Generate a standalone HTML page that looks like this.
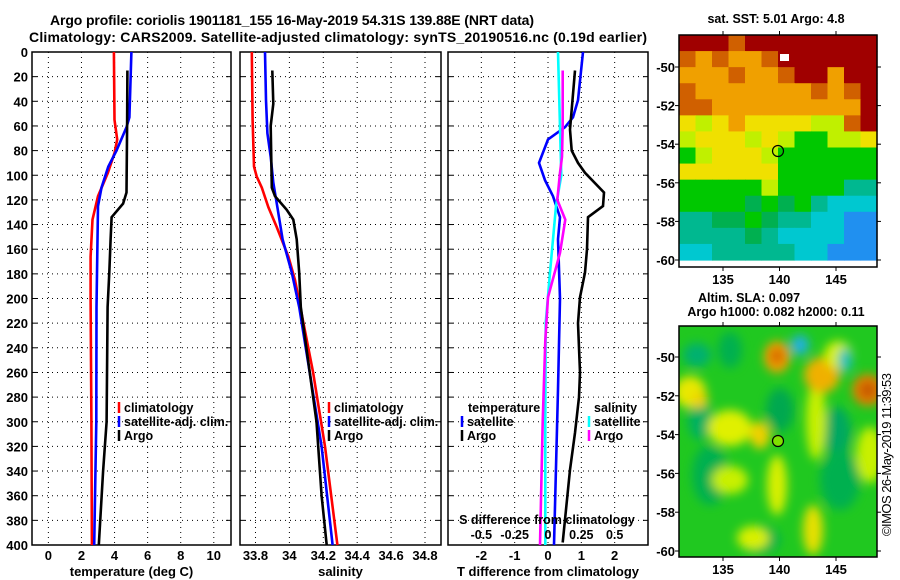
<!DOCTYPE html>
<html><head><meta charset="utf-8"><style>
html,body{margin:0;padding:0;background:#fff;}
svg{display:block;font-family:"Liberation Sans",Arial,sans-serif;font-weight:bold;}
</style></head><body>
<svg id="chart" width="900" height="580" viewBox="0 0 900 580" xmlns="http://www.w3.org/2000/svg">
<text x="50" y="25" font-size="14" textLength="484">Argo profile: coriolis 1901181_155 16-May-2019 54.31S 139.88E (NRT data)</text>
<text x="29" y="42" font-size="14" textLength="618">Climatology: CARS2009. Satellite-adjusted climatology: synTS_20190516.nc (0.19d earlier)</text>
<g id="panels"></g>
<g id="maps"></g>
<text transform="translate(891,536) rotate(-90)" font-size="13" font-weight="normal" textLength="163">©IMOS 26-May-2019 11:39:53</text>
</svg>
<script>
// ---------- data ----------
// Temperature panel (deg C)
const tClimDepth = [0,55,71,82,98,117,136,166,200,300,400];
const tClim = [3.96,4.0,4.16,4.0,3.6,3.0,2.67,2.55,2.55,2.6,2.63];
const tSatDepth = [0,53,61,80,93,110,125,207,300,400];
const tSat = [5.02,4.9,4.72,4.12,3.62,3.21,3.0,2.91,2.9,2.77];
const tArgoDepth = [15,60,114,123,134,152,179,207,300,340,400];
const tArgo = [4.78,4.76,4.72,4.52,3.82,3.76,3.68,3.58,3.52,3.31,3.05];
// Salinity panel
const sClimDepth = [0,55,93,101,110,126,142,166,185,206,260,320,400];
const sClim = [33.778,33.783,33.791,33.807,33.837,33.876,33.925,33.994,34.033,34.063,34.14,34.21,34.283];
const sSatDepth = [0,39,66,85,106,126,152,179,207,320,400];
const sSat = [33.856,33.862,33.87,33.89,33.905,33.929,33.96,34.014,34.058,34.19,34.255];
const sArgoDepth = [15,42,60,110,117,128,136,152,179,207,300,320,360,400];
const sArgo = [33.899,33.905,33.89,33.896,33.915,33.984,34.023,34.043,34.058,34.067,34.16,34.17,34.19,34.22];
// Difference panel
const dTSatDepth = [0,39,53,61,71,90,104,117,134,152,200,274,400];
const dTSat = [1.05,0.9,0.75,0.51,0.0,-0.27,-0.09,0.15,0.36,0.3,0.36,0.3,0.18];
const dTArgoDepth = [15,63,80,90,98,114,125,134,160,179,199,220,260,280,309,339,398];
const dTArgo = [0.81,0.66,0.71,0.9,1.11,1.68,1.65,1.2,1.17,1.11,0.96,0.9,0.96,0.93,0.81,0.66,0.44];
const dSSatDepth = [0,100,125,179,220,300,400];
const dSSat = [0.075,0.1,0.06,0.015,-0.017,-0.02,-0.02];
const dSArgoDepth = [15,60,85,98,120,136,163,199,234,300,400];
const dSArgo = [0.11,0.11,0.105,0.09,0.07,0.13,0.09,0.0,-0.02,-0.04,-0.06];
// ticks
const depthTicks = [0,20,40,60,80,100,120,140,160,180,200,220,240,260,280,300,320,340,360,380,400];
const tTicks = [0,2,4,6,8,10];
const sTicks = [33.8,34,34.2,34.4,34.6,34.8];
const sTickLabels = ["33.8","34","34.2","34.4","34.6","34.8"];
const dTTicks = [-2,-1,0,1,2];
const dSTicks = [-0.5,-0.25,0,0.25,0.5];
const dSTickLabels = ["-0.5","-0.25","0","0.25","0.5"];
const lonTicks = [135,140,145];
const latTicks = [-50,-52,-54,-56,-58,-60];

// ---------- helpers ----------
const NS="http://www.w3.org/2000/svg";
const svg=document.getElementById('chart');
function mk(tag,attrs,parent){const e=document.createElementNS(NS,tag);for(const k in attrs)e.setAttribute(k,attrs[k]);(parent||svg).appendChild(e);return e;}
const Y0=52,Y1=545;
const yD=d=>Y0+(d/400)*(Y1-Y0);
const panelsG=document.getElementById('panels');

function panel(name,x0,x1,xmin,xmax,ticks,labels,showDepth,xtitle){
  const g=mk('g',{},panelsG);
  
  
  const xs=v=>x0+(v-xmin)/(xmax-xmin)*(x1-x0);
  depthTicks.forEach(d=>{
    if(d>0&&d<400){const l=mk('line',{x1:x0,x2:x1,y1:yD(d),y2:yD(d),stroke:'#000','stroke-width':1,'stroke-dasharray':'1,4'},g);
    }
    mk('line',{x1:x0,x2:x0+5,y1:yD(d),y2:yD(d),stroke:'#000','stroke-width':1},g);
    mk('line',{x1:x1-5,x2:x1,y1:yD(d),y2:yD(d),stroke:'#000','stroke-width':1},g);
    if(showDepth){const tx=mk('text',{x:x0-4,y:yD(d)+5,'font-size':13,'text-anchor':'end'},g);tx.textContent=d;
      }
  });
  ticks.forEach((v,i)=>{
    const l=mk('line',{x1:xs(v),x2:xs(v),y1:Y0,y2:Y1,stroke:'#000','stroke-width':1,'stroke-dasharray':'1,4'},g);
    
    const tx=mk('text',{x:xs(v),y:560,'font-size':13,'text-anchor':'middle'},g);tx.textContent=labels[i];
    
  });
  const r=mk('rect',{x:x0,y:Y0,width:x1-x0,height:Y1-Y0,fill:'none',stroke:'#000','stroke-width':1.5},g);
  
  const tt=mk('text',{x:(x0+x1)/2,y:576,'font-size':13,'text-anchor':'middle'},g);tt.textContent=xtitle;
  
  return {g,xs};
}
function line(p,ds,vs,color,name){
  const pts=ds.map((d,i)=>p.xs(vs[i]).toFixed(1)+','+yD(d).toFixed(1)).join(' ');
  const pl=mk('polyline',{points:pts,fill:'none',stroke:color,'stroke-width':2.6},p.g);
  
  
}
function leg(g,x,y,color,label,name){
  const l=mk('line',{x1:x,x2:x,y1:y-10,y2:y+1,stroke:color,'stroke-width':2.5},g);
  
  if(label){const t=mk('text',{x:x+5,y:y,'font-size':12.5},g);t.textContent=label;
  }
}
function txt(g,x,y,s,name,anchor,size){const t=mk('text',{x:x,y:y,'font-size':size||12.5,'text-anchor':anchor||'start'},g);t.textContent=s;
  return t;}

// Panel 1 temperature
const p1=panel('temperature-panel',32,231,-0.99,11.04,tTicks,tTicks.map(String),true,'temperature (deg C)');
line(p1,tClimDepth,tClim,'#ff0000','temp-climatology-line');
line(p1,tSatDepth,tSat,'#0000ff','temp-satellite-line');
line(p1,tArgoDepth,tArgo,'#000000','temp-argo-line');
leg(p1.g,119,412,'#ff0000','climatology','legend-climatology');
leg(p1.g,119,426,'#0000ff','satellite-adj. clim.','legend-satellite-adj');
leg(p1.g,119,440,'#000000','Argo','legend-argo');

// Panel 2 salinity
const p2=panel('salinity-panel',240,441,33.7086,34.8944,sTicks,sTickLabels,false,'salinity');
line(p2,sClimDepth,sClim,'#ff0000','sal-climatology-line');
line(p2,sSatDepth,sSat,'#0000ff','sal-satellite-line');
line(p2,sArgoDepth,sArgo,'#000000','sal-argo-line');
leg(p2.g,329,412,'#ff0000','climatology','legend-climatology');
leg(p2.g,329,426,'#0000ff','satellite-adj. clim.','legend-satellite-adj');
leg(p2.g,329,440,'#000000','Argo','legend-argo');

// Panel 3 differences
const p3=panel('difference-panel',448,648,-3,3,dTTicks,dTTicks.map(String),false,'T difference from climatology');
const xsS=v=>548+v*133.3;
line(p3,dTSatDepth,dTSat,'#0000ff','tdiff-satellite-line');
line(p3,dTArgoDepth,dTArgo,'#000000','tdiff-argo-line');
const p3s={g:p3.g,xs:xsS};
line(p3s,dSSatDepth,dSSat,'#00ffff','sdiff-satellite-line');
line(p3s,dSArgoDepth,dSArgo,'#ff00ff','sdiff-argo-line');
txt(p3.g,468,412,'temperature','legend-temperature-heading');
leg(p3.g,462,426,'#0000ff','satellite','legend-t-satellite');
leg(p3.g,462,440,'#000000','Argo','legend-t-argo');
txt(p3.g,594,412,'salinity','legend-salinity-heading');
leg(p3.g,589,426,'#00ffff','satellite','legend-s-satellite');
leg(p3.g,589,440,'#ff00ff','Argo','legend-s-argo');
txt(p3.g,547,524,'S difference from climatology','s-axis-title','middle',12.5);
dSTicks.forEach((v,i)=>{txt(p3.g,xsS(v),539,dSTickLabels[i],'s-tick-label','middle',12.5);});

// ---------- maps ----------
const mapsG=document.getElementById('maps');
const MX0=679,MX1=877;
const lonX=lon=>723+(lon-135)*11.3;
const palette={R:'#a00000',O:'#d06000',o:'#f0a000',Y:'#f0e000',y:'#c0f000',G:'#00c800',g:'#00b050',T:'#00b890',C:'#00c8d0',B:'#2090f0'};
const sstRows=[
"RRRORRRRRRRR",
"OoOooORRRRRR",
"oooOooORRoRR",
"OoooooooOoOR",
"OOoooooooooR",
"YyYoYYYYyyOR",
"yYYYyYyGGyyY",
"GyYYYyGGGGGG",
"YYYYYYGGGGGG",
"GGGGGyGGGGTT",
"GGGGgGgGTCCC",
"TTggGgTTCCBB",
"TTTTgTCCCCBB",
"CCTTTTTCCBBB"];
function mapFrame(g,y0,y1,latY,name){
  const r=mk('rect',{x:MX0,y:y0,width:MX1-MX0,height:y1-y0,fill:'none',stroke:'#000','stroke-width':1.5},g);
  
  lonTicks.forEach(l=>{mk('line',{x1:lonX(l),x2:lonX(l),y1:y0-4,y2:y0,stroke:'#000'},g);mk('line',{x1:lonX(l),x2:lonX(l),y1:y1,y2:y1+4,stroke:'#000'},g);
    txt(g,lonX(l),y1+17,String(l),'lon-tick-label','middle',13);});
  latTicks.forEach(l=>{const y=latY(l);
    mk('line',{x1:MX0-4,x2:MX0,y1:y,y2:y,stroke:'#000'},g);
    mk('line',{x1:MX1,x2:MX1+4,y1:y,y2:y,stroke:'#000'},g);
    txt(g,675,y+5,String(l),'lat-tick-label','end',13);});
}
// SST map
const g1=mk('g',{},mapsG);


const s0=35,s1=267;
const latY1=lat=>67+(-50-lat)*19.3;
const cw=(MX1-MX0)/12,ch=(260-s0)/14;
sstRows.forEach((row,ri)=>{[...row].forEach((c,ci)=>{
  const r=mk('rect',{x:MX0+ci*cw,y:s0+ri*ch,width:cw+0.6,height:ch+0.6,fill:palette[c]},g1);
  });});
mk('rect',{x:780,y:54,width:9,height:7,fill:'#fff'},g1);
const c1=mk('circle',{cx:778,cy:151,r:5.5,fill:'none',stroke:'#000','stroke-width':1.2},g1);

mapFrame(g1,s0,s1,latY1,'sst-map');
txt(g1,776,23,'sat. SST: 5.01 Argo: 4.8','sst-map-title','middle',12.5);

// SLA map
const g2=mk('g',{},mapsG);


const a0=326,a1=557;
const latY2=lat=>357+(-50-lat)*19.4;
const defs=mk('defs',{},g2);
const f=mk('filter',{id:'blur',x:'-50%',y:'-50%',width:'200%',height:'200%'},defs);
mk('feGaussianBlur',{stdDeviation:5},f);
const cp=mk('clipPath',{id:'clip2'},defs);
mk('rect',{x:MX0,y:a0,width:MX1-MX0,height:a1-a0},cp);
const inner=mk('g',{'clip-path':'url(#clip2)'},g2);
mk('rect',{x:MX0,y:a0,width:MX1-MX0,height:a1-a0,fill:'#20c820'},inner);
const blobs=[
 [697,355,14,12,'#00b070'],[730,350,12,18,'#00b050'],[780,410,14,22,'#00a850'],[710,475,18,30,'#00b050'],[837,432,14,25,'#00a860'],
 [840,480,20,30,'#00b050'],[700,420,12,20,'#00b060'],[760,540,20,14,'#00b050'],
 [690,392,16,16,'#e8e800'],[730,428,22,18,'#e0f000'],[760,435,10,14,'#f0d000'],[777,485,10,30,'#d8f000'],[813,530,10,25,'#e8e000'],
 [753,538,16,12,'#d8f000'],[730,480,18,14,'#c8f000'],[816,420,10,40,'#c8f000'],[870,455,14,28,'#c8f000'],
 [777,357,13,16,'#f0a000'],[822,375,18,18,'#f0b000'],[868,390,16,16,'#e08000'],[838,355,14,14,'#d8f000'],
 [800,345,9,10,'#20b0e0'],[845,360,7,12,'#20c0c0'],[700,400,8,8,'#f0d000']];
const bg=mk('g',{filter:'url(#blur)'},inner);
blobs.forEach(b=>{const e=mk('ellipse',{cx:b[0],cy:b[1],rx:b[2],ry:b[3],fill:b[4]},bg);
  });
mk('ellipse',{cx:777,cy:356,rx:6,ry:7,fill:'#d06000',filter:'url(#blur)'},inner);
mk('ellipse',{cx:868,cy:390,rx:7,ry:7,fill:'#c05000',filter:'url(#blur)'},inner);
const c2=mk('circle',{cx:778,cy:441,r:5.5,fill:'#80e000',stroke:'#000','stroke-width':1.2},g2);

mapFrame(g2,a0,a1,latY2,'sla-map');
txt(g2,749,302,'Altim. SLA: 0.097','sla-map-title','middle',12.5);
txt(g2,776,316,'Argo h1000: 0.082 h2000: 0.11','sla-map-subtitle','middle',12.5);
</script>
</body></html>
